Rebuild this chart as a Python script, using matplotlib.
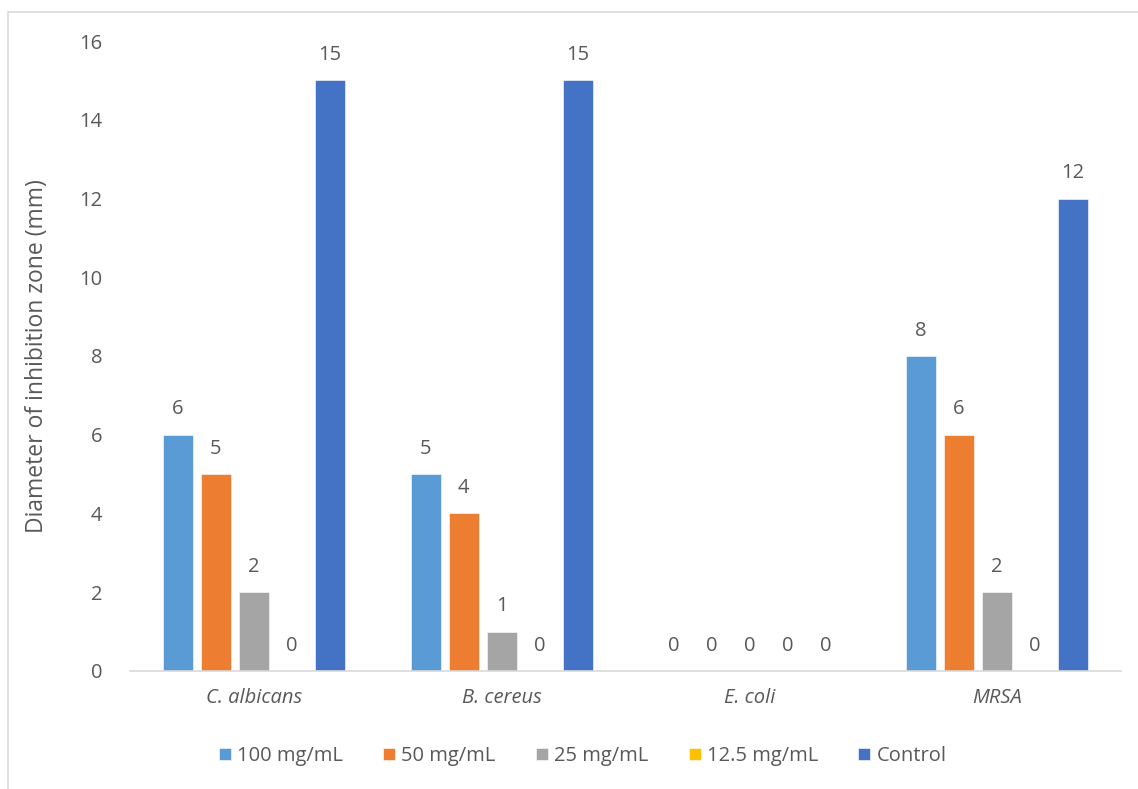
import matplotlib.pyplot as plt
import numpy as np
from matplotlib.patches import Rectangle

plt.rcParams['font.family'] = ['Open Sans', 'DejaVu Sans']

organisms = ['C. albicans', 'B. cereus', 'E. coli', 'MRSA']
series_names = ['100 mg/mL', '50 mg/mL', '25 mg/mL', '12.5 mg/mL', 'Control']
conc_100 = [6, 5, 0, 8]
conc_50 = [5, 4, 0, 6]
conc_25 = [2, 1, 0, 2]
conc_12_5 = [0, 0, 0, 0]
control = [15, 15, 0, 12]

colors = ['#5B9BD5', '#ED7D31', '#A5A5A5', '#FFC000', '#4472C4']
text_color = '#595959'

fig = plt.figure(figsize=(11.38, 7.89), dpi=100)
ax = fig.add_axes([0.1142, 0.1496, 0.8708, 0.7984])

# light chart-area border
fig.patches.append(Rectangle((8 / 1138, -0.1), 1.2, 1 - 12 / 789 + 0.1,
                             transform=fig.transFigure, fill=False,
                             edgecolor='#D9D9D9', linewidth=1.2))

x = np.arange(len(organisms))
width = 0.121
pitch = 0.1535
all_series = [conc_100, conc_50, conc_25, conc_12_5, control]
for i, (name, vals, col) in enumerate(zip(series_names, all_series, colors)):
    pos = x + (i - 2) * pitch
    bars = ax.bar(pos, vals, width, color=col, label=name,
                  edgecolor='white', linewidth=0.4)
    for b, v in zip(bars, vals):
        ax.annotate(str(v), (b.get_x() + b.get_width() / 2, v),
                    xytext=(0, 11), textcoords='offset points',
                    ha='center', va='bottom', fontsize=14.5, color=text_color)

ax.set_xlim(-0.5, len(organisms) - 0.5)
ax.set_ylim(0, 16)
ax.set_yticks(range(0, 17, 2))
ax.set_xticks(x)
ax.set_xticklabels(organisms, style='italic')
ax.tick_params(axis='both', length=0, labelsize=14.5, colors=text_color)
ax.tick_params(axis='y', pad=20)
ax.tick_params(axis='x', pad=12)
ax.set_ylabel('Diameter of inhibition zone (mm)', fontsize=16.5,
              color=text_color, labelpad=22)

for s in ['top', 'right', 'left']:
    ax.spines[s].set_visible(False)
ax.spines['bottom'].set_color('#D9D9D9')
ax.spines['bottom'].set_linewidth(1.2)

leg = fig.legend(loc='center', bbox_to_anchor=(0.512, 1 - 756 / 789), ncol=5,
                 frameon=False, fontsize=14.5, handlelength=0.6, handleheight=0.6,
                 handletextpad=0.3, columnspacing=2.0)
for t in leg.get_texts():
    t.set_color(text_color)

fig.savefig('out.png', dpi=100)
